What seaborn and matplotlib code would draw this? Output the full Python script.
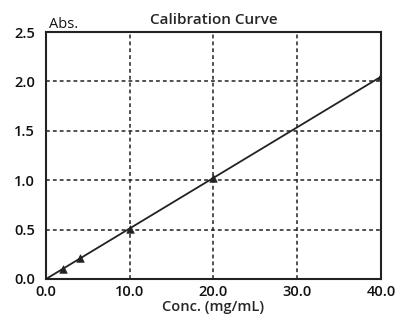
import numpy as np
import pandas as pd
import matplotlib
matplotlib.use("Agg")
import matplotlib.pyplot as plt
import seaborn as sns

# Calibration standards
conc = [2.0, 4.0, 10.0, 20.0, 40.0]          # mg/mL
absorbance = [0.10, 0.21, 0.51, 1.02, 2.05]
x_ticks = [0.0, 10.0, 20.0, 30.0, 40.0]
y_ticks = [0.0, 0.5, 1.0, 1.5, 2.0, 2.5]

df = pd.DataFrame({"conc": conc, "abs": absorbance})

sns.set_theme(style="white")
plt.rcParams["font.family"] = ["Open Sans", "DejaVu Sans"]

fig = plt.figure(figsize=(3.96, 3.22), dpi=100)
ax = fig.add_axes([46 / 396, 1 - 279 / 322, 335 / 396, 247 / 322])

# Least-squares line through the origin
x_arr = np.array(conc)
y_arr = np.array(absorbance)
slope = (x_arr * y_arr).sum() / (x_arr ** 2).sum()
fit = pd.DataFrame({"conc": [0.0, max(x_ticks)]})
fit["abs"] = slope * fit["conc"]
sns.lineplot(data=fit, x="conc", y="abs", ax=ax, color="#222222", lw=1.3)

sns.scatterplot(data=df, x="conc", y="abs", ax=ax, marker="^", s=30,
                color="#222222", edgecolor="#222222", zorder=3)

ax.set_xlim(0, 40)
ax.set_ylim(0, 2.5)
ax.set_xticks(x_ticks)
ax.set_yticks(y_ticks)
ax.set_xticklabels([f"{v:.1f}" for v in x_ticks], fontsize=10.5, fontweight="semibold")
ax.set_yticklabels([f"{v:.1f}" for v in y_ticks], fontsize=10.5, fontweight="semibold")
ax.tick_params(axis="x", length=0, pad=4, colors="#111111")
ax.tick_params(axis="y", length=0, pad=8, colors="#111111")

ax.grid(True, color="#222222", linestyle=(0, (2.5, 2)), linewidth=1.1)
for s in ax.spines.values():
    s.set_visible(True)
    s.set_color("#222222")
    s.set_linewidth(1.5)

ax.set_xlabel("Conc. (mg/mL)", fontsize=10.5, fontweight="semibold", labelpad=1)
ax.set_ylabel("")
ax.text(0.01, 1.0, "Abs.", transform=ax.transAxes, fontsize=10.5,
        ha="left", va="bottom", color="#111111")
ax.set_title("Calibration Curve", fontsize=11, fontweight="semibold", pad=6)

fig.savefig("out.png", dpi=100)
